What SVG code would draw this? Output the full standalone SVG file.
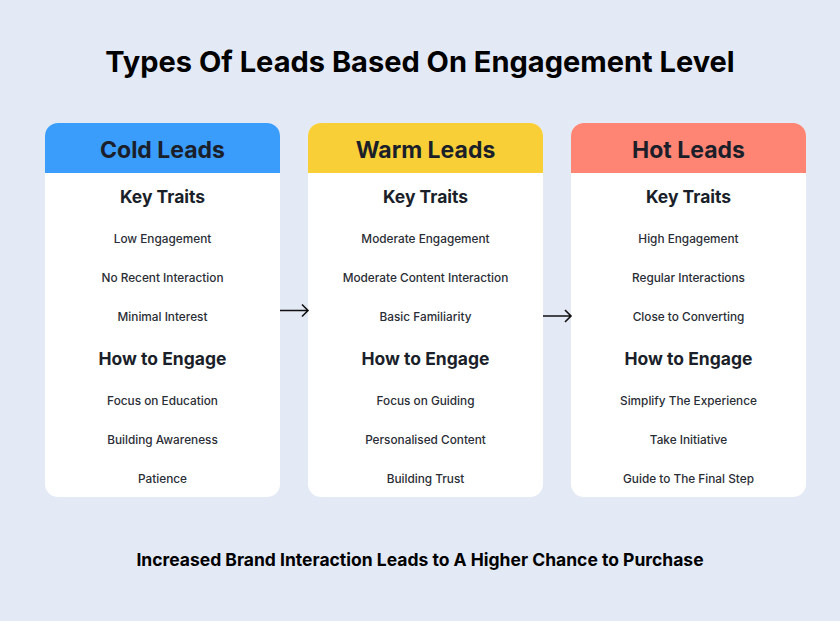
<svg xmlns="http://www.w3.org/2000/svg" width="840" height="621" viewBox="0 0 840 621">
<defs>
<style>
.t{font-family:Inter,"Noto Sans",sans-serif;text-anchor:middle;fill:#1b1f2a}
.title{font-size:29px;font-weight:700;fill:#000}
.hd{font-size:23px;font-weight:700}
.sec{font-size:17.5px;font-weight:700}
.it{font-size:11.8px;font-weight:500;fill:#2a2d35}
.foot{font-size:17.5px;font-weight:700;fill:#000}
.card{fill:#fff}
.arr{stroke:#111;stroke-width:1.6;fill:none}
</style>
<clipPath id="c1"><rect x="45" y="123" width="235" height="374" rx="13"/></clipPath>
<clipPath id="c2"><rect x="308" y="123" width="235" height="374" rx="13"/></clipPath>
<clipPath id="c3"><rect x="571" y="123" width="235" height="374" rx="13"/></clipPath>
</defs>
<rect width="840" height="621" fill="#e3e9f5"/>
<text class="t title" x="420" y="72">Types Of Leads Based On Engagement Level</text>
<g id="cold">
<rect class="card" x="45" y="123" width="235" height="374" rx="13"/>
<rect x="45" y="123" width="235" height="50" fill="#3a9cfb" clip-path="url(#c1)"/>
<text class="t hd" x="162.5" y="157.5">Cold Leads</text>
<text class="t sec" x="162.5" y="202.5">Key Traits</text>
<text class="t it" x="162.5" y="242.5">Low Engagement</text>
<text class="t it" x="162.5" y="281.5">No Recent Interaction</text>
<text class="t it" x="162.5" y="320.5">Minimal Interest</text>
<text class="t sec" x="162.5" y="364.5">How to Engage</text>
<text class="t it" x="162.5" y="404.5">Focus on Education</text>
<text class="t it" x="162.5" y="443.5">Building Awareness</text>
<text class="t it" x="162.5" y="482.5">Patience</text>
</g>
<g id="warm">
<rect class="card" x="308" y="123" width="235" height="374" rx="13"/>
<rect x="308" y="123" width="235" height="50" fill="#f8cf37" clip-path="url(#c2)"/>
<text class="t hd" x="425.5" y="157.5">Warm Leads</text>
<text class="t sec" x="425.5" y="202.5">Key Traits</text>
<text class="t it" x="425.5" y="242.5">Moderate Engagement</text>
<text class="t it" x="425.5" y="281.5">Moderate Content Interaction</text>
<text class="t it" x="425.5" y="320.5">Basic Familiarity</text>
<text class="t sec" x="425.5" y="364.5">How to Engage</text>
<text class="t it" x="425.5" y="404.5">Focus on Guiding</text>
<text class="t it" x="425.5" y="443.5">Personalised Content</text>
<text class="t it" x="425.5" y="482.5">Building Trust</text>
</g>
<g id="hot">
<rect class="card" x="571" y="123" width="235" height="374" rx="13"/>
<rect x="571" y="123" width="235" height="50" fill="#fe8474" clip-path="url(#c3)"/>
<text class="t hd" x="688.5" y="157.5">Hot Leads</text>
<text class="t sec" x="688.5" y="202.5">Key Traits</text>
<text class="t it" x="688.5" y="242.5">High Engagement</text>
<text class="t it" x="688.5" y="281.5">Regular Interactions</text>
<text class="t it" x="688.5" y="320.5">Close to Converting</text>
<text class="t sec" x="688.5" y="364.5">How to Engage</text>
<text class="t it" x="688.5" y="404.5">Simplify The Experience</text>
<text class="t it" x="688.5" y="443.5">Take Initiative</text>
<text class="t it" x="688.5" y="482.5">Guide to The Final Step</text>
</g>
<g id="connectors">
<path class="arr" d="M280 310.5H308M302 304.5L308 310.5L302 316.5"/>
<path class="arr" d="M543 316H571M565 310L571 316L565 322"/>
</g>
<text class="t foot" x="420" y="565.5">Increased Brand Interaction Leads to A Higher Chance to Purchase</text>
</svg>
